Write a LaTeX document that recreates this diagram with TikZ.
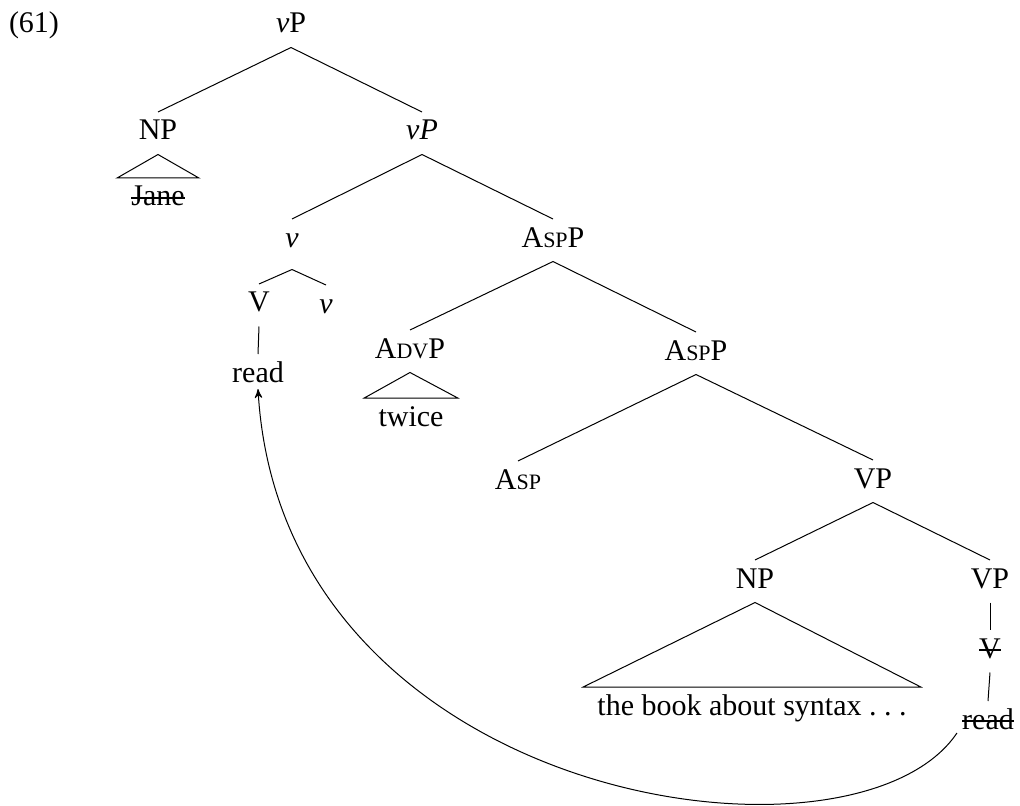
\documentclass[tikz,border=0pt,12pt]{standalone}
\usepackage{fontspec}
\setmainfont{Liberation Serif}
\usetikzlibrary{arrows}
\newcommand{\fsc}[1]{{\fontsize{8.8pt}{10pt}\selectfont #1}}
\newcommand{\strk}[1]{\setbox0=\hbox{#1}\rlap{\usebox0}\rule[2.9pt]{\wd0}{0.7pt}}

\begin{document}
\begin{tikzpicture}[x=0.4pt,y=-0.4pt,>=stealth',
cat/.style={anchor=base,inner xsep=5.5pt,inner ysep=0pt,text height=11pt,text depth=5.6pt}]

\useasboundingbox (0,0) rectangle (1020,806);

\node[anchor=base] (ex) at (34,33) {(61)};

\node[cat] (vP) at (291,33) {\textit{v}P};
\node[cat] (NP) at (158,140) {NP};
\node[cat] (Jane) at (158,206) {\strk{Jane}};
\node[cat] (vbar) at (422,140) {\textit{vP}};
\node[cat,text depth=8.8pt] (v) at (292,247) {\textit{v}};
\node[cat] (AspP) at (553,247) {A\fsc{SP}P};
\node[cat] (V) at (259,312) {V};
\node[cat] (vhead) at (326,313) {\textit{v}};
\node[cat] (read) at (258,382) {read};
\node[cat] (AdvP) at (410,358) {A\fsc{DV}P};
\node[cat] (twice) at (411,426) {twice};
\node[cat] (AspPb) at (696,360) {A\fsc{SP}P};
\node[cat] (Asp) at (518,489) {A\fsc{SP}};
\node[cat] (VP) at (873,488) {VP};
\node[cat] (NPb) at (755,588) {NP};
\node[cat] (VPb) at (990,588) {VP};
\node[cat] (book) at (752,715) {the book about syntax .\kern0.25em.\kern0.25em.};
\node[cat] (Vtr) at (990,658) {\strk{V}};
\node[cat] (readtr) at (988,729) {\strk{read}};

\path[draw]
(vP.south) edge (NP.north)
           edge (vbar.north)
(vbar.south) edge (v.north)
             edge (AspP.north)
(v.south) edge (V.north)
          edge (vhead.north)
(V.south) edge (read.north)
(AspP.south) edge (AdvP.north)
             edge (AspPb.north)
(AspPb.south) edge (Asp.north)
              edge (VP.north)
(VP.south) edge (NPb.north)
           edge (VPb.north)
(VPb.south) edge (Vtr.north)
(Vtr.south) edge (readtr.north);

% roofs
\draw (NP.south) -- (Jane.north west) -- (Jane.north east) -- cycle;
\draw (AdvP.south) -- (twice.north west) -- (twice.north east) -- cycle;
\draw (NPb.south) -- (book.north west) -- (book.north east) -- cycle;

% head movement
\draw[->] ([shift={(9,4)}]readtr.base west) .. controls (855,885) and (282,805) .. ([yshift=-2.8pt]read.base);

\end{tikzpicture}
\end{document}
